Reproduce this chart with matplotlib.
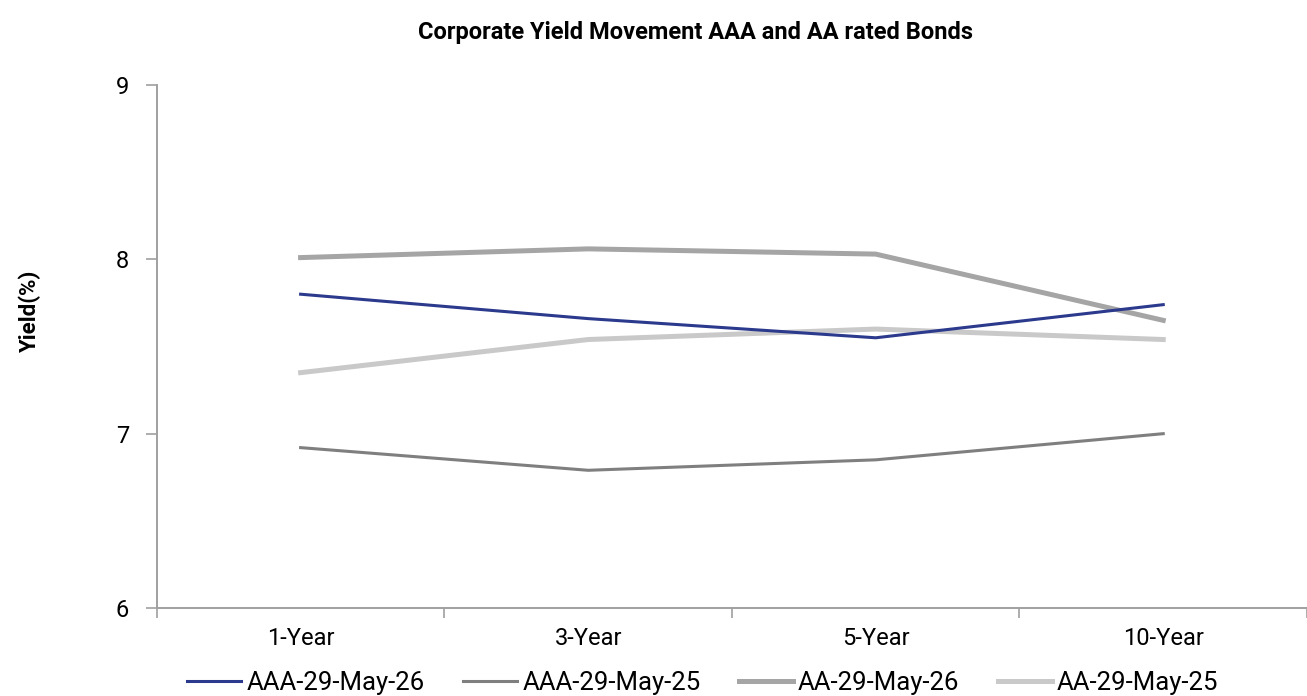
import matplotlib
matplotlib.use('Agg')
import matplotlib.pyplot as plt
import numpy as np

# ============================================================
#  Data
# ============================================================

tenors = ['1-Year', '3-Year', '5-Year', '10-Year']

aaa_may26 = [7.80, 7.66, 7.55, 7.74]
aaa_may25 = [6.92, 6.79, 6.85, 7.00]
aa_may26 = [8.01, 8.06, 8.03, 7.65]
aa_may25 = [7.35, 7.54, 7.60, 7.54]

series_names = ['AAA-29-May-26', 'AAA-29-May-25', 'AA-29-May-26', 'AA-29-May-25']
y_ticks = [6, 7, 8, 9]

plt.rcParams['font.family'] = ['Roboto', 'DejaVu Sans']

# ============================================================
#  Plot
# ============================================================

fig = plt.figure(figsize=(13.07, 6.96), dpi=100)
ax = fig.add_axes([0.120, 0.1264, 0.880, 0.7515])

x = np.arange(len(tenors))
ax.plot(x, aaa_may26, color='#2B3A8C', lw=2.2, label=series_names[0], zorder=4)
ax.plot(x, aaa_may25, color='#7F7F7F', lw=2.2, label=series_names[1], zorder=3)
ax.plot(x, aa_may26, color='#A5A5A5', lw=3.6, label=series_names[2], zorder=2)
ax.plot(x, aa_may25, color='#C9C9C9', lw=3.6, label=series_names[3], zorder=1)

ax.set_xlim(-0.5, len(tenors) - 0.5)
ax.set_ylim(6, 9)
ax.set_yticks(y_ticks)
ax.set_yticklabels([str(v) for v in y_ticks], fontsize=17)

# category labels centred, tick marks at the category boundaries
ax.set_xticks(x)
ax.set_xticklabels(tenors, fontsize=17)
ax.tick_params(axis='x', length=0, pad=14)
ax.set_xticks(np.arange(-0.5, len(tenors) - 0.5 + 1e-9, 1.0), minor=True)
ax.tick_params(axis='x', which='minor', length=7, width=1.2, color='#A0A0A0')
ax.tick_params(axis='y', length=8, width=1.2, color='#A0A0A0', pad=12)

for side in ['top', 'right']:
    ax.spines[side].set_visible(False)
for side in ['left', 'bottom']:
    ax.spines[side].set_color('#A0A0A0')
    ax.spines[side].set_linewidth(1.4)

fig.text(30 / 1307, 1 - 311 / 696, 'Yield(%)', rotation=90, ha='center', va='center',
         fontsize=16, fontweight='bold')

fig.text(0.532, 0.953, 'Corporate Yield Movement AAA and AA rated Bonds',
         ha='center', va='center', fontsize=17, fontweight='bold')

leg = ax.legend(loc='center', bbox_to_anchor=(0.5, -0.145), ncol=4, frameon=False,
                fontsize=18.5, handlelength=2.1, handletextpad=0.2, columnspacing=1.5)
leg.set_bbox_to_anchor((703 / 1307, 1 - 683 / 696), transform=fig.transFigure)

fig.savefig('out.png', dpi=100)
